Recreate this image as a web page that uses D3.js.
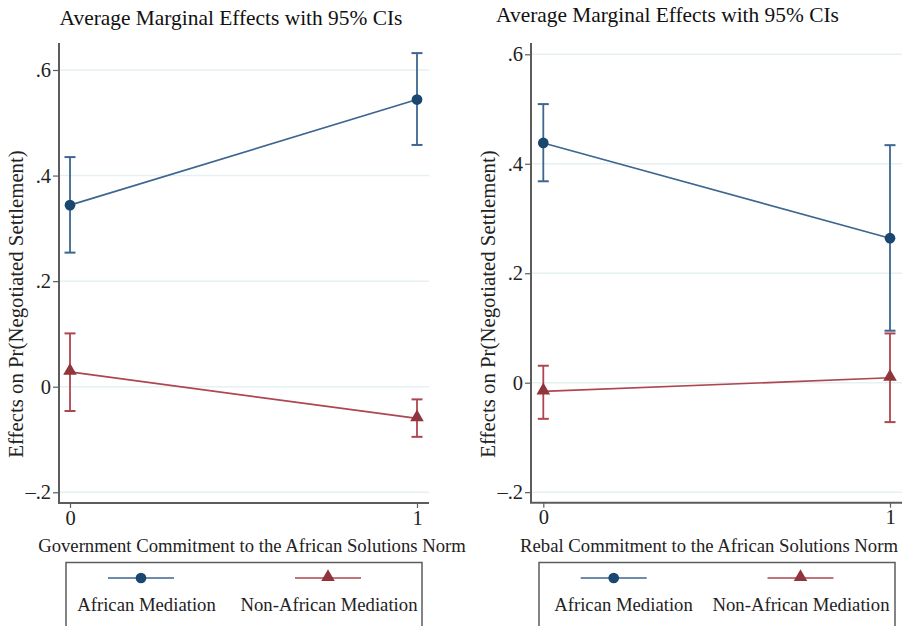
<!DOCTYPE html>
<html>
<head>
<meta charset="utf-8">
<script src="https://cdn.jsdelivr.net/npm/d3@7"></script>
<style>
  body { margin: 0; background: #fff; }
  svg { display: block; font-family: "Liberation Serif", "DejaVu Serif", serif; }
</style>
</head>
<body>
<svg id="chart" width="902" height="626"></svg>
<script>
// ---- data ----
const xCategories = [0, 1];
const yTicks = [-0.2, 0, 0.2, 0.4, 0.6];
const yTickLabels = ["\u2013.2", "0", ".2", ".4", ".6"];
const seriesNames = ["African Mediation", "Non-African Mediation"];

const govAfrican      = [0.344, 0.544];
const govAfricanLo    = [0.254, 0.458];
const govAfricanHi    = [0.435, 0.632];
const govNonAfrican   = [0.028, -0.060];
const govNonAfricanLo = [-0.046, -0.095];
const govNonAfricanHi = [0.101, -0.024];

const rebAfrican      = [0.438, 0.264];
const rebAfricanLo    = [0.368, 0.095];
const rebAfricanHi    = [0.509, 0.434];
const rebNonAfrican   = [-0.016, 0.009];
const rebNonAfricanLo = [-0.066, -0.072];
const rebNonAfricanHi = [0.031, 0.090];

const chartTitle = "Average Marginal Effects with 95% CIs";
const yTitle = "Effects on Pr(Negotiated Settlement)";
const xTitles = ["Government Commitment to the African Solutions Norm",
                 "Rebal Commitment to the African Solutions Norm"];

// ---- styles ----
const NAVY = "#1a476f", MAROON = "#90353b";
const NAVY_LINE = "#3d6690", MAROON_LINE = "#ad4650";
const GRID = "#e6eff1", AXIS = "#5c5c5c";

const svg = d3.select("#chart");

function panel(opt) {
  const g = svg.append("g");
  const x = d3.scaleLinear().domain([0, 1]).range([opt.x0, opt.x1]);
  const y = d3.scaleLinear().domain([0, 0.6]).range([opt.y0, opt.y6]);

  // title
  g.append("text").attr("x", opt.titleX).attr("y", opt.titleY)
    .attr("text-anchor", "middle").attr("font-size", 21.4).attr("fill", "#111")
    .text(chartTitle);

  // gridlines
  g.selectAll(".grid").data(yTicks).enter().append("line")
    .attr("x1", opt.axisX + 1).attr("x2", opt.gridEnd)
    .attr("y1", d => y(d)).attr("y2", d => y(d))
    .attr("stroke", GRID).attr("stroke-width", 1.5);

  // y axis
  const yAxis = d3.axisLeft(y).tickValues(yTicks)
    .tickFormat((d, i) => yTickLabels[i]).tickSize(6).tickPadding(2);
  const ya = g.append("g").attr("transform", `translate(${opt.axisX},0)`).call(yAxis);
  ya.attr("font-family", null);
  ya.select(".domain").remove();
  ya.selectAll(".tick line").attr("stroke", AXIS).attr("stroke-width", 1.2);
  ya.selectAll(".tick text").attr("font-size", 20.5).attr("fill", "#222");
  g.append("line").attr("x1", opt.axisX).attr("x2", opt.axisX)
    .attr("y1", opt.axisTop).attr("y2", opt.axisBottom)
    .attr("stroke", AXIS).attr("stroke-width", 2);

  // x axis
  const xAxis = d3.axisBottom(x).tickValues(xCategories).tickFormat(d3.format("d"))
    .tickSize(5).tickPadding(2);
  const xa = g.append("g").attr("transform", `translate(0,${opt.axisBottom})`).call(xAxis);
  xa.attr("font-family", null);
  xa.select(".domain").remove();
  xa.selectAll(".tick line").attr("stroke", AXIS).attr("stroke-width", 1.2);
  xa.selectAll(".tick text").attr("font-size", 20.5).attr("fill", "#222");
  g.append("line").attr("x1", opt.axisX - 1).attr("x2", opt.gridEnd)
    .attr("y1", opt.axisBottom).attr("y2", opt.axisBottom)
    .attr("stroke", AXIS).attr("stroke-width", 2);

  // axis titles
  g.append("text").attr("transform", `translate(${opt.yTitleX},${opt.yTitleY}) rotate(-90)`)
    .attr("text-anchor", "middle").attr("font-size", 20.8).attr("fill", "#222").text(yTitle);
  g.append("text").attr("x", opt.xTitleX).attr("y", opt.xTitleY)
    .attr("text-anchor", "middle").attr("font-size", 18.7).attr("fill", "#222").text(opt.xTitle);

  // series
  const series = [
    {est: opt.a, lo: opt.aLo, hi: opt.aHi, color: NAVY, lcolor: NAVY_LINE, sym: d3.symbolCircle},
    {est: opt.n, lo: opt.nLo, hi: opt.nHi, color: MAROON, lcolor: MAROON_LINE, sym: d3.symbolTriangle}
  ];
  const line = d3.line().x((d, i) => x(xCategories[i])).y(d => y(d));
  series.forEach(s => {
    const sg = g.append("g");
    sg.append("path").datum(s.est).attr("d", line).attr("fill", "none")
      .attr("stroke", s.lcolor).attr("stroke-width", 1.7);
    xCategories.forEach((c, i) => {
      sg.append("line").attr("x1", x(c)).attr("x2", x(c))
        .attr("y1", y(s.lo[i])).attr("y2", y(s.hi[i]))
        .attr("stroke", s.lcolor).attr("stroke-width", 1.8);
      [s.lo[i], s.hi[i]].forEach(v => {
        sg.append("line").attr("x1", x(c) - 5.5).attr("x2", x(c) + 5.5)
          .attr("y1", y(v)).attr("y2", y(v))
          .attr("stroke", s.lcolor).attr("stroke-width", 2);
      });
      sg.append("path").attr("d", d3.symbol().type(s.sym).size(s.sym === d3.symbolCircle ? 90 : 80)())
        .attr("transform", `translate(${x(c)},${y(s.est[i]) + (s.sym === d3.symbolCircle ? 0 : -1)})`)
        .attr("fill", s.color);
    });
  });

  // legend
  const lg = g.append("g");
  lg.append("rect").attr("x", opt.legX).attr("y", 562.5).attr("width", opt.legW).attr("height", 80)
    .attr("fill", "none").attr("stroke", AXIS).attr("stroke-width", 1.5);
  series.forEach((s, i) => {
    const cx = opt.legSym[i];
    lg.append("line").attr("x1", cx - 33).attr("x2", cx + 33).attr("y1", 578).attr("y2", 578)
      .attr("stroke", s.lcolor).attr("stroke-width", 1.7);
    lg.append("path").attr("d", d3.symbol().type(s.sym).size(s.sym === d3.symbolCircle ? 90 : 80)())
      .attr("transform", `translate(${cx},${578 + (s.sym === d3.symbolCircle ? 0 : -1)})`)
      .attr("fill", s.color);
    lg.append("text").attr("x", opt.legText[i]).attr("y", 611).attr("text-anchor", "middle")
      .attr("font-size", 18.7).attr("fill", "#222").text(seriesNames[i]);
  });
}

panel({
  x0: 70, x1: 417, y0: 386.7, y6: 70,
  axisX: 59, axisTop: 43, axisBottom: 503, gridEnd: 429,
  titleX: 231, titleY: 25,
  yTitleX: 23, yTitleY: 304,
  xTitleX: 252, xTitleY: 552, xTitle: xTitles[0],
  a: govAfrican, aLo: govAfricanLo, aHi: govAfricanHi,
  n: govNonAfrican, nLo: govNonAfricanLo, nHi: govNonAfricanHi,
  legX: 66, legW: 356, legSym: [141, 328], legText: [146.5, 329]
});
panel({
  x0: 543.3, x1: 890, y0: 382.7, y6: 54.3,
  axisX: 531, axisTop: 43, axisBottom: 502.7, gridEnd: 902,
  titleX: 667.5, titleY: 22,
  yTitleX: 495, yTitleY: 304,
  xTitleX: 709, xTitleY: 552, xTitle: xTitles[1],
  a: rebAfrican, aLo: rebAfricanLo, aHi: rebAfricanHi,
  n: rebNonAfrican, nLo: rebNonAfricanLo, nHi: rebNonAfricanHi,
  legX: 539, legW: 356, legSym: [613.7, 800.5], legText: [623.5, 801]
});
</script>
</body>
</html>
